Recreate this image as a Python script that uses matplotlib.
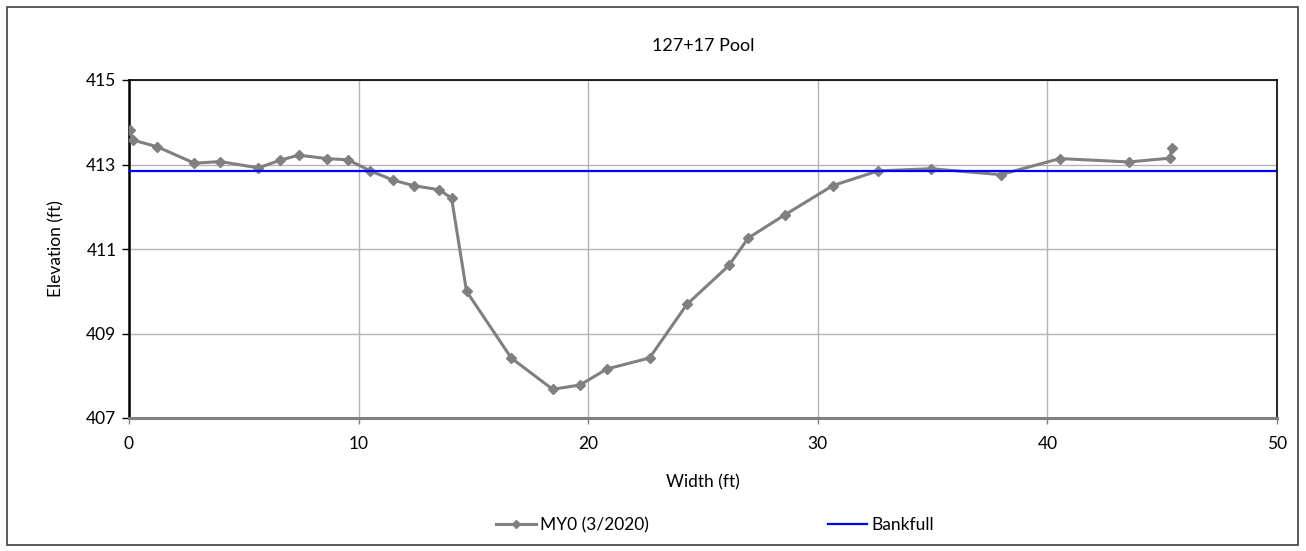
import matplotlib.pyplot as plt
from matplotlib.patches import Rectangle

plt.rcParams['font.family'] = ['Lato', 'DejaVu Sans']

# Datos de la sección transversal
ancho = [0.04, 0.16, 1.23, 2.85, 3.97, 5.64, 6.57, 7.39, 8.63, 9.54,
         10.51, 11.50, 12.40, 13.52, 14.05, 14.70, 16.65, 18.45, 19.64, 20.81,
         22.67, 24.30, 26.13, 26.97, 28.57, 30.65, 32.63, 34.95, 37.96, 40.55,
         43.55, 45.33, 45.42]
elevacion = [413.81, 413.58, 413.42, 413.03, 413.07, 412.92, 413.10, 413.22, 413.14, 413.11,
             412.85, 412.63, 412.50, 412.40, 412.20, 410.00, 408.42, 407.68, 407.78, 408.16,
             408.42, 409.69, 410.61, 411.26, 411.81, 412.50, 412.85, 412.90, 412.76, 413.14,
             413.06, 413.15, 413.40]
bankfull_x = [0, 50]
bankfull_y = [412.85, 412.85]

xticks = [0, 10, 20, 30, 40, 50]
yticks = [407, 409, 411, 413, 415]

fig = plt.figure(figsize=(13.06, 5.51), dpi=100)
ax = fig.add_axes([129/1306, 1 - 418/551, (1277 - 129)/1306, (418 - 80)/551])

ax.plot(ancho, elevacion, color='#808080', linewidth=2.2, marker='D',
        markersize=5.5, label='MY0 (3/2020)', zorder=3)
ax.plot(bankfull_x, bankfull_y, color='#0000ff', linewidth=1.6, label='Bankfull', zorder=4)

ax.set_xlim(0, 50)
ax.set_ylim(407, 415)
ax.set_xticks(xticks)
ax.set_yticks(yticks)
ax.grid(True, color='#b3b3b3', linewidth=1)
ax.set_axisbelow(True)

for lado in ['left', 'top', 'right']:
    ax.spines[lado].set_color('black')
    ax.spines[lado].set_linewidth(1.2)
ax.spines['left'].set_linewidth(1.8)
ax.spines['bottom'].set_color('#808080')
ax.spines['bottom'].set_linewidth(2.2)

ax.tick_params(axis='y', direction='out', length=5, width=1, color='black', labelsize=12.5, pad=4)
ax.tick_params(axis='x', direction='out', length=4, width=1, color='#808080', labelsize=12.5, pad=9)

ax.set_title('127+17 Pool', fontsize=13, pad=21)
ax.set_xlabel('Width (ft)', fontsize=12.5, labelpad=16)
ax.set_ylabel('Elevation (ft)', fontsize=12.5, labelpad=16)

fig.legend(loc='center', bbox_to_anchor=(715/1306, 1 - 525/551), ncol=2,
           frameon=False, fontsize=12.5, columnspacing=10.3, handlelength=2.25,
           handletextpad=0.25, markerscale=0.8)

# Borde exterior del gráfico
fig.patches.append(Rectangle((7/1306, 1 - 545/551), (1298 - 7)/1306, (545 - 7)/551,
                             transform=fig.transFigure, fill=False,
                             edgecolor='#404040', linewidth=1.2))

fig.savefig('out.png', dpi=100)
